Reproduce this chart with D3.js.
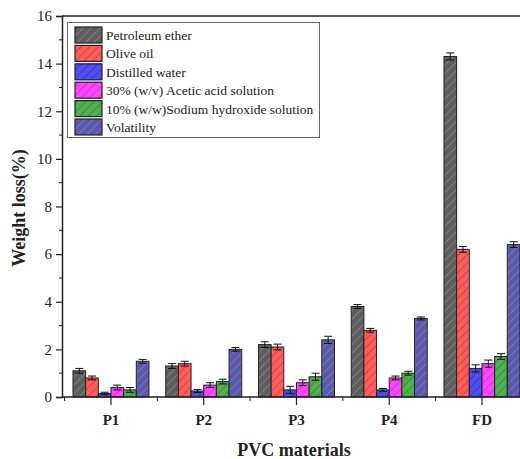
<!DOCTYPE html>
<html>
<head>
<meta charset="utf-8">
<script src="https://cdn.jsdelivr.net/npm/d3@7"></script>
<style>
html,body{margin:0;padding:0;background:#fff;}
svg{display:block;}
text{font-family:"Liberation Serif","Times New Roman",serif;}
</style>
</head>
<body>
<svg id="chart" width="520" height="459"></svg>
<script>
const categories = ["P1","P2","P3","P4","FD"];
const seriesNames = ["Petroleum ether","Olive oil","Distilled water","30% (w/v) Acetic acid solution","10% (w/w)Sodium hydroxide solution","Volatility"];
const petroleumEther = [1.1, 1.3, 2.2, 3.8, 14.3];
const oliveOil       = [0.8, 1.4, 2.1, 2.8, 6.2];
const distilledWater = [0.15, 0.25, 0.3, 0.3, 1.2];
const aceticAcid     = [0.4, 0.5, 0.6, 0.8, 1.4];
const sodiumHydroxide= [0.3, 0.65, 0.85, 1.0, 1.7];
const volatility     = [1.5, 2.0, 2.4, 3.3, 6.4];
const errPetroleum   = [0.1, 0.1, 0.12, 0.08, 0.15];
const errOlive       = [0.08, 0.1, 0.12, 0.08, 0.12];
const errWater       = [0.05, 0.06, 0.15, 0.06, 0.15];
const errAcetic      = [0.1, 0.1, 0.12, 0.08, 0.15];
const errNaOH        = [0.1, 0.1, 0.15, 0.08, 0.12];
const errVol         = [0.08, 0.08, 0.15, 0.06, 0.12];
const yTicks = [0,2,4,6,8,10,12,14,16];

const seriesValues = [petroleumEther, oliveOil, distilledWater, aceticAcid, sodiumHydroxide, volatility];
const seriesErr = [errPetroleum, errOlive, errWater, errAcetic, errNaOH, errVol];
const fills = ["#5e5e5e","#ff5c5c","#4d4df2","#ff45ff","#4fb04f","#5a5aaa"];
const hatchCols = ["#8a8a8a","#c83a3a","#3232b0","#c02cc0","#2f7f2f","#8080c8"];

const svg = d3.select("#chart");
const axisX = 62, plotTop = 16, plotBottom = 397;
const y = d3.scaleLinear().domain([0,16]).range([plotBottom, plotTop]);
const step = 92.75, x0 = 64.6;
const x = d3.scaleBand().domain(categories).range([x0, x0 + step*categories.length]).padding(0);
const groupW = 76;
const xi = d3.scaleBand().domain(seriesNames)
  .range([(x.bandwidth()-groupW)/2, (x.bandwidth()+groupW)/2]).padding(0);

// patterns
const defs = svg.append("defs");
fills.forEach((f,i)=>{
  const p = defs.append("pattern").attr("id","h"+i).attr("patternUnits","userSpaceOnUse")
    .attr("width",6).attr("height",6).attr("patternTransform","rotate(45)");
  p.append("rect").attr("width",6).attr("height",6).attr("fill",f);
  p.append("line").attr("x1",0).attr("y1",0).attr("x2",0).attr("y2",6)
    .attr("stroke",hatchCols[i]).attr("stroke-width",1.4);
});

// bars
const data = [];
categories.forEach((c,ci)=>{
  seriesNames.forEach((s,si)=>{
    data.push({c, s, si, v: seriesValues[si][ci], e: seriesErr[si][ci]});
  });
});
const g = svg.append("g");
g.selectAll("rect.bar").data(data).enter().append("rect")
  .attr("class","bar")
  .attr("x", d=>x(d.c)+xi(d.s))
  .attr("width", xi.bandwidth())
  .attr("y", d=>y(d.v))
  .attr("height", d=>y(0)-y(d.v))
  .attr("fill", d=>"url(#h"+d.si+")")
  .attr("stroke","#222").attr("stroke-width",1);

// error bars
const eb = g.selectAll("g.err").data(data).enter().append("g").attr("class","err")
  .attr("stroke","#111").attr("stroke-width",1);
const cx = d=>x(d.c)+xi(d.s)+xi.bandwidth()/2;
eb.append("line")
  .attr("x1", cx).attr("x2", cx)
  .attr("y1", d=>y(d.v+d.e)).attr("y2", d=>y(Math.max(0,d.v-d.e)));
eb.append("line")
  .attr("x1", d=>cx(d)-4).attr("x2", d=>cx(d)+4)
  .attr("y1", d=>y(d.v+d.e)).attr("y2", d=>y(d.v+d.e));
eb.append("line")
  .attr("x1", d=>cx(d)-4).attr("x2", d=>cx(d)+4)
  .attr("y1", d=>y(Math.max(0,d.v-d.e))).attr("y2", d=>y(Math.max(0,d.v-d.e)));

// frame top line
svg.append("line").attr("x1",axisX).attr("x2",520).attr("y1",plotTop).attr("y2",plotTop)
  .attr("stroke","#222").attr("stroke-width",1.5);

// y axis
const yAxis = d3.axisLeft(y).tickValues(yTicks).tickSize(6).tickPadding(4).tickFormat(d3.format("d"));
const ya = svg.append("g").attr("transform",`translate(${axisX},0)`).call(yAxis);
ya.attr("font-family","Liberation Serif");
ya.select(".domain").attr("stroke","#222").attr("stroke-width",1.5);
ya.selectAll(".tick line").attr("stroke","#222").attr("stroke-width",1.2);
ya.selectAll(".tick text").attr("font-family","Liberation Serif").attr("font-size",15).attr("fill","#222");
const yMinor = d3.range(1,16,2);
svg.append("g").selectAll("line").data(yMinor).enter().append("line")
  .attr("x1",axisX-3).attr("x2",axisX).attr("y1",d=>y(d)).attr("y2",d=>y(d))
  .attr("stroke","#222").attr("stroke-width",1);

// x axis
svg.append("line").attr("x1",axisX).attr("x2",520).attr("y1",plotBottom).attr("y2",plotBottom)
  .attr("stroke","#222").attr("stroke-width",1.5);
const xAxis = d3.axisBottom(x).tickSize(8).tickPadding(9);
const xa = svg.append("g").attr("transform",`translate(0,${plotBottom})`).call(xAxis);
xa.attr("font-family","Liberation Serif");
xa.select(".domain").remove();
xa.selectAll(".tick line").attr("stroke","#222").attr("stroke-width",1.2);
xa.selectAll(".tick text").attr("font-family","Liberation Serif").attr("font-size",15)
  .attr("font-weight","bold").attr("fill","#222");
const xMinor = d3.range(0, categories.length+1).map(k=>x0+k*step);
svg.append("g").selectAll("line").data(xMinor).enter().append("line")
  .attr("x1",d=>d).attr("x2",d=>d).attr("y1",plotBottom).attr("y2",plotBottom+4)
  .attr("stroke","#222").attr("stroke-width",1);

// axis titles
svg.append("text").attr("x",294).attr("y",456).attr("text-anchor","middle")
  .attr("font-size",18).attr("font-weight","bold").attr("fill","#222").text("PVC materials");
svg.append("text").attr("transform","translate(25,208) rotate(-90)").attr("text-anchor","middle")
  .attr("font-size",18).attr("font-weight","bold").attr("fill","#222").text("Weight loss(%)");

// legend
const lg = svg.append("g");
lg.append("rect").attr("x",67.5).attr("y",22.5).attr("width",252).attr("height",115)
  .attr("fill","#fff").attr("stroke","#666").attr("stroke-width",1);
seriesNames.forEach((s,i)=>{
  const cy = 35 + i*18.4;
  lg.append("rect").attr("x",75).attr("y",cy-8).attr("width",27).attr("height",16)
    .attr("fill","url(#h"+i+")").attr("stroke","#222").attr("stroke-width",1.2);
  lg.append("text").attr("x",106).attr("y",cy+5).attr("font-size",13.5)
    .attr("font-family","Liberation Serif").attr("fill","#222").text(s);
});
</script>
</body>
</html>
